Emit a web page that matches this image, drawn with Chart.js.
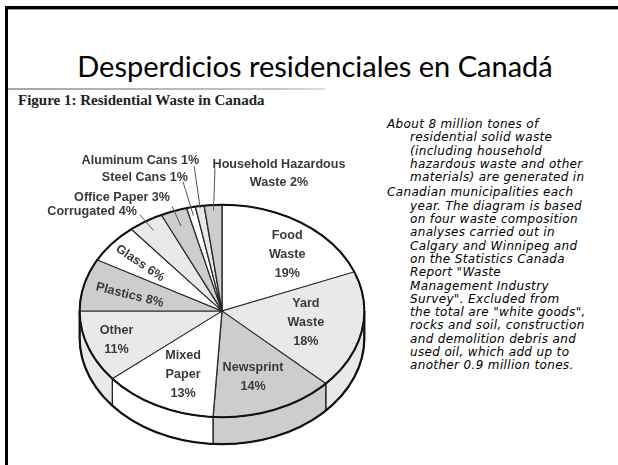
<!DOCTYPE html>
<html>
<head>
<meta charset="utf-8">
<script src="https://cdn.jsdelivr.net/npm/chart.js@4"></script>
<style>
  body { margin: 0; width: 618px; height: 465px; position: relative; overflow: hidden; background: #fff; }
  #frame { position: absolute; left: 5px; top: 6px; width: 640px; height: 480px; border-top: 3px solid #000; border-left: 3px solid #000; box-shadow: inset 0 1px 0 #999; }
  #title { position: absolute; left: 0; width: 630px; top: 48px; text-align: center; font: 29px Lato, sans-serif; color: #000; white-space: nowrap; }
  #rule { position: absolute; left: 8px; top: 88px; width: 317px; height: 2px; background: linear-gradient(to right, #a8a898, #c8c8b8 85%, #e0e0d8); }
  #fig { position: absolute; left: 18px; top: 92px; font: bold 15px "Liberation Serif", serif; color: #222; white-space: nowrap; }
  #note { position: absolute; left: 387px; top: 118px; width: 228px; font: italic 12px "DejaVu Sans", sans-serif; letter-spacing: 0.35px; line-height: 13.3px; color: #000; }
  #note p { margin: 0 0 2px 0; padding-left: 23px; text-indent: -23px; white-space: nowrap; }
  canvas { position: absolute; left: 0; top: 0; }
</style>
</head>
<body>
<div id="frame"></div>
<div id="title">Desperdicios residenciales en Canadá</div>
<div id="rule"></div>
<div id="fig">Figure 1: Residential Waste in Canada</div>
<div id="note">
  <p>About 8 million tones of<br>residential solid waste<br>(including household<br>hazardous waste and other<br>materials) are generated in</p>
  <p>Canadian municipalities each<br>year. The diagram is based<br>on four waste composition<br>analyses carried out in<br>Calgary and Winnipeg and<br>on the Statistics Canada<br>Report "Waste<br>Management Industry<br>Survey". Excluded from<br>the total are "white goods",<br>rocks and soil, construction<br>and demolition debris and<br>used oil, which add up to<br>another 0.9 million tones.</p>
</div>
<canvas id="chart" width="618" height="465"></canvas>
<script>
const categories = ['Food Waste', 'Yard Waste', 'Newsprint', 'Mixed Paper', 'Other', 'Plastics', 'Glass',
  'Corrugated', 'Office Paper', 'Steel Cans', 'Aluminum Cans', 'Household Hazardous Waste'];
const shares = [19, 18, 14, 13, 11, 8, 6, 4, 3, 1, 1, 2];

const sliceColors = ['#ffffff', '#e9e9e9', '#cdcdcd', '#ffffff', '#e9e9e9', '#cdcdcd', '#ffffff',
  '#e9e9e9', '#cdcdcd', '#ffffff', '#e9e9e9', '#cdcdcd'];

const tilt = 0.746;   // vertical squash of the pie
const depth = 27;     // thickness of the side wall

// where each slice label goes: inside (r = radius fraction, da = angle nudge) or outside with a leader
const labelLayout = [
  { wrap: 'words', r: 0.70, da: 6.7 },
  { wrap: 'words', r: 0.60, da: 0 },
  { wrap: 'words', r: 0.66, da: 2.3 },
  { wrap: 'words', r: 0.66, da: -2.5 },
  { wrap: 'words', r: 0.79, da: -0.5 },
  { wrap: 'one', r: 0.665, da: -1.4, rot: 14 },
  { wrap: 'one', r: 0.73, da: -1.6, rot: 34 },
  { wrap: 'one', r0: 0.9, lead: [-13.5, -15.5], text: [-3, -3], align: 'right' },
  { wrap: 'one', r0: 0.85, lead: [-9, -20], text: [-2, -9], align: 'right' },
  { wrap: 'one', r0: 0.92, lead: [-10.5, -34], text: [5, -4], align: 'right' },
  { wrap: 'one', r0: 0.98, lead: [-6, -42], text: [5, -6], align: 'right' },
  { wrap: 'last', r0: 0.95, lead: [1.5, -42], text: [64, -4], align: 'center' }
];

function labelLines(i) {
  const name = categories[i], pct = shares[i] + '%';
  const mode = labelLayout[i].wrap;
  if (mode === 'words') return name.split(' ').concat([pct]);
  if (mode === 'last') {
    const w = name.split(' ');
    return [w.slice(0, -1).join(' '), w[w.length - 1] + ' ' + pct];
  }
  return [name + ' ' + pct];
}

const pie3d = {
  id: 'pie3d',
  beforeDatasetsDraw(chart) {
    const ctx = chart.ctx;
    const arcs = chart.getDatasetMeta(0).data;
    const cx = arcs[0].x, cy = arcs[0].y, R = arcs[0].outerRadius, ry = R * tilt;
    ctx.save();
    ctx.strokeStyle = '#222';
    ctx.lineWidth = 1.3;
    arcs.forEach((arc) => {
      const a1 = Math.max(arc.startAngle, 0), a2 = Math.min(arc.endAngle, Math.PI);
      if (a2 <= a1) return;
      ctx.beginPath();
      ctx.ellipse(cx, cy, R, ry, 0, a1, a2);
      ctx.lineTo(cx + R * Math.cos(a2), cy + ry * Math.sin(a2) + depth);
      ctx.ellipse(cx, cy + depth, R, ry, 0, a2, a1, true);
      ctx.closePath();
      ctx.fillStyle = arc.options.backgroundColor;
      ctx.fill();
      ctx.stroke();
    });
    ctx.lineWidth = 2.2;
    ctx.strokeStyle = '#111';
    ctx.beginPath();
    ctx.ellipse(cx, cy + depth, R, ry, 0, 0, Math.PI);
    ctx.stroke();
    ctx.beginPath();
    ctx.moveTo(cx - R, cy); ctx.lineTo(cx - R, cy + depth);
    ctx.moveTo(cx + R, cy); ctx.lineTo(cx + R, cy + depth);
    ctx.stroke();
    ctx.restore();
    // squash the flat pie into an ellipse
    ctx.save();
    ctx.translate(cx, cy);
    ctx.scale(1, tilt);
    ctx.translate(-cx, -cy);
  },
  afterDatasetsDraw(chart) {
    const ctx = chart.ctx;
    ctx.restore();
    const arcs = chart.getDatasetMeta(0).data;
    const cx = arcs[0].x, cy = arcs[0].y, R = arcs[0].outerRadius, ry = R * tilt;
    ctx.save();
    ctx.lineWidth = 2;
    ctx.strokeStyle = '#111';
    ctx.beginPath();
    ctx.ellipse(cx, cy, R, ry, 0, 0, Math.PI * 2);
    ctx.stroke();
    ctx.restore();
  },
  afterDraw(chart) {
    const ctx = chart.ctx;
    const arcs = chart.getDatasetMeta(0).data;
    const cx = arcs[0].x, cy = arcs[0].y, R = arcs[0].outerRadius, ry = R * tilt;
    ctx.save();
    ctx.font = 'bold 12.6px "Liberation Sans", Arial, sans-serif';
    ctx.fillStyle = '#3a3a3a';
    ctx.textBaseline = 'middle';
    const lh = 19;
    arcs.forEach((arc, i) => {
      const L = labelLayout[i];
      const lines = labelLines(i);
      const mid = (arc.startAngle + arc.endAngle) / 2 + (L.da || 0) * Math.PI / 180;
      if (L.lead) {
        const sx = cx + R * L.r0 * Math.cos(mid), sy = cy + ry * L.r0 * Math.sin(mid);
        const ex = sx + L.lead[0], ey = sy + L.lead[1];
        ctx.strokeStyle = '#555';
        ctx.lineWidth = 1;
        ctx.beginPath();
        ctx.moveTo(sx, sy);
        ctx.lineTo(ex, ey);
        ctx.stroke();
        ctx.textAlign = L.align;
        lines.forEach((t, k) => ctx.fillText(t, ex + L.text[0], ey + L.text[1] + k * 18));
      } else {
        const px = cx + R * L.r * Math.cos(mid), py = cy + ry * L.r * Math.sin(mid);
        ctx.save();
        ctx.translate(px, py);
        ctx.rotate((L.rot || 0) * Math.PI / 180);
        ctx.textAlign = 'center';
        const y0 = -(lines.length - 1) * lh / 2;
        lines.forEach((t, k) => ctx.fillText(t, 0, y0 + k * lh));
        ctx.restore();
      }
    });
    ctx.restore();
  }
};

new Chart(document.getElementById('chart'), {
  type: 'pie',
  data: {
    labels: categories,
    datasets: [{
      data: shares,
      backgroundColor: sliceColors,
      borderColor: '#2a2a2a',
      borderWidth: 1.3
    }]
  },
  options: {
    responsive: false,
    animation: false,
    events: [],
    layout: { padding: { left: 79, right: 253, top: 168, bottom: 11 } },
    plugins: { legend: { display: false }, tooltip: { enabled: false } }
  },
  plugins: [pie3d]
});
</script>
</body>
</html>
